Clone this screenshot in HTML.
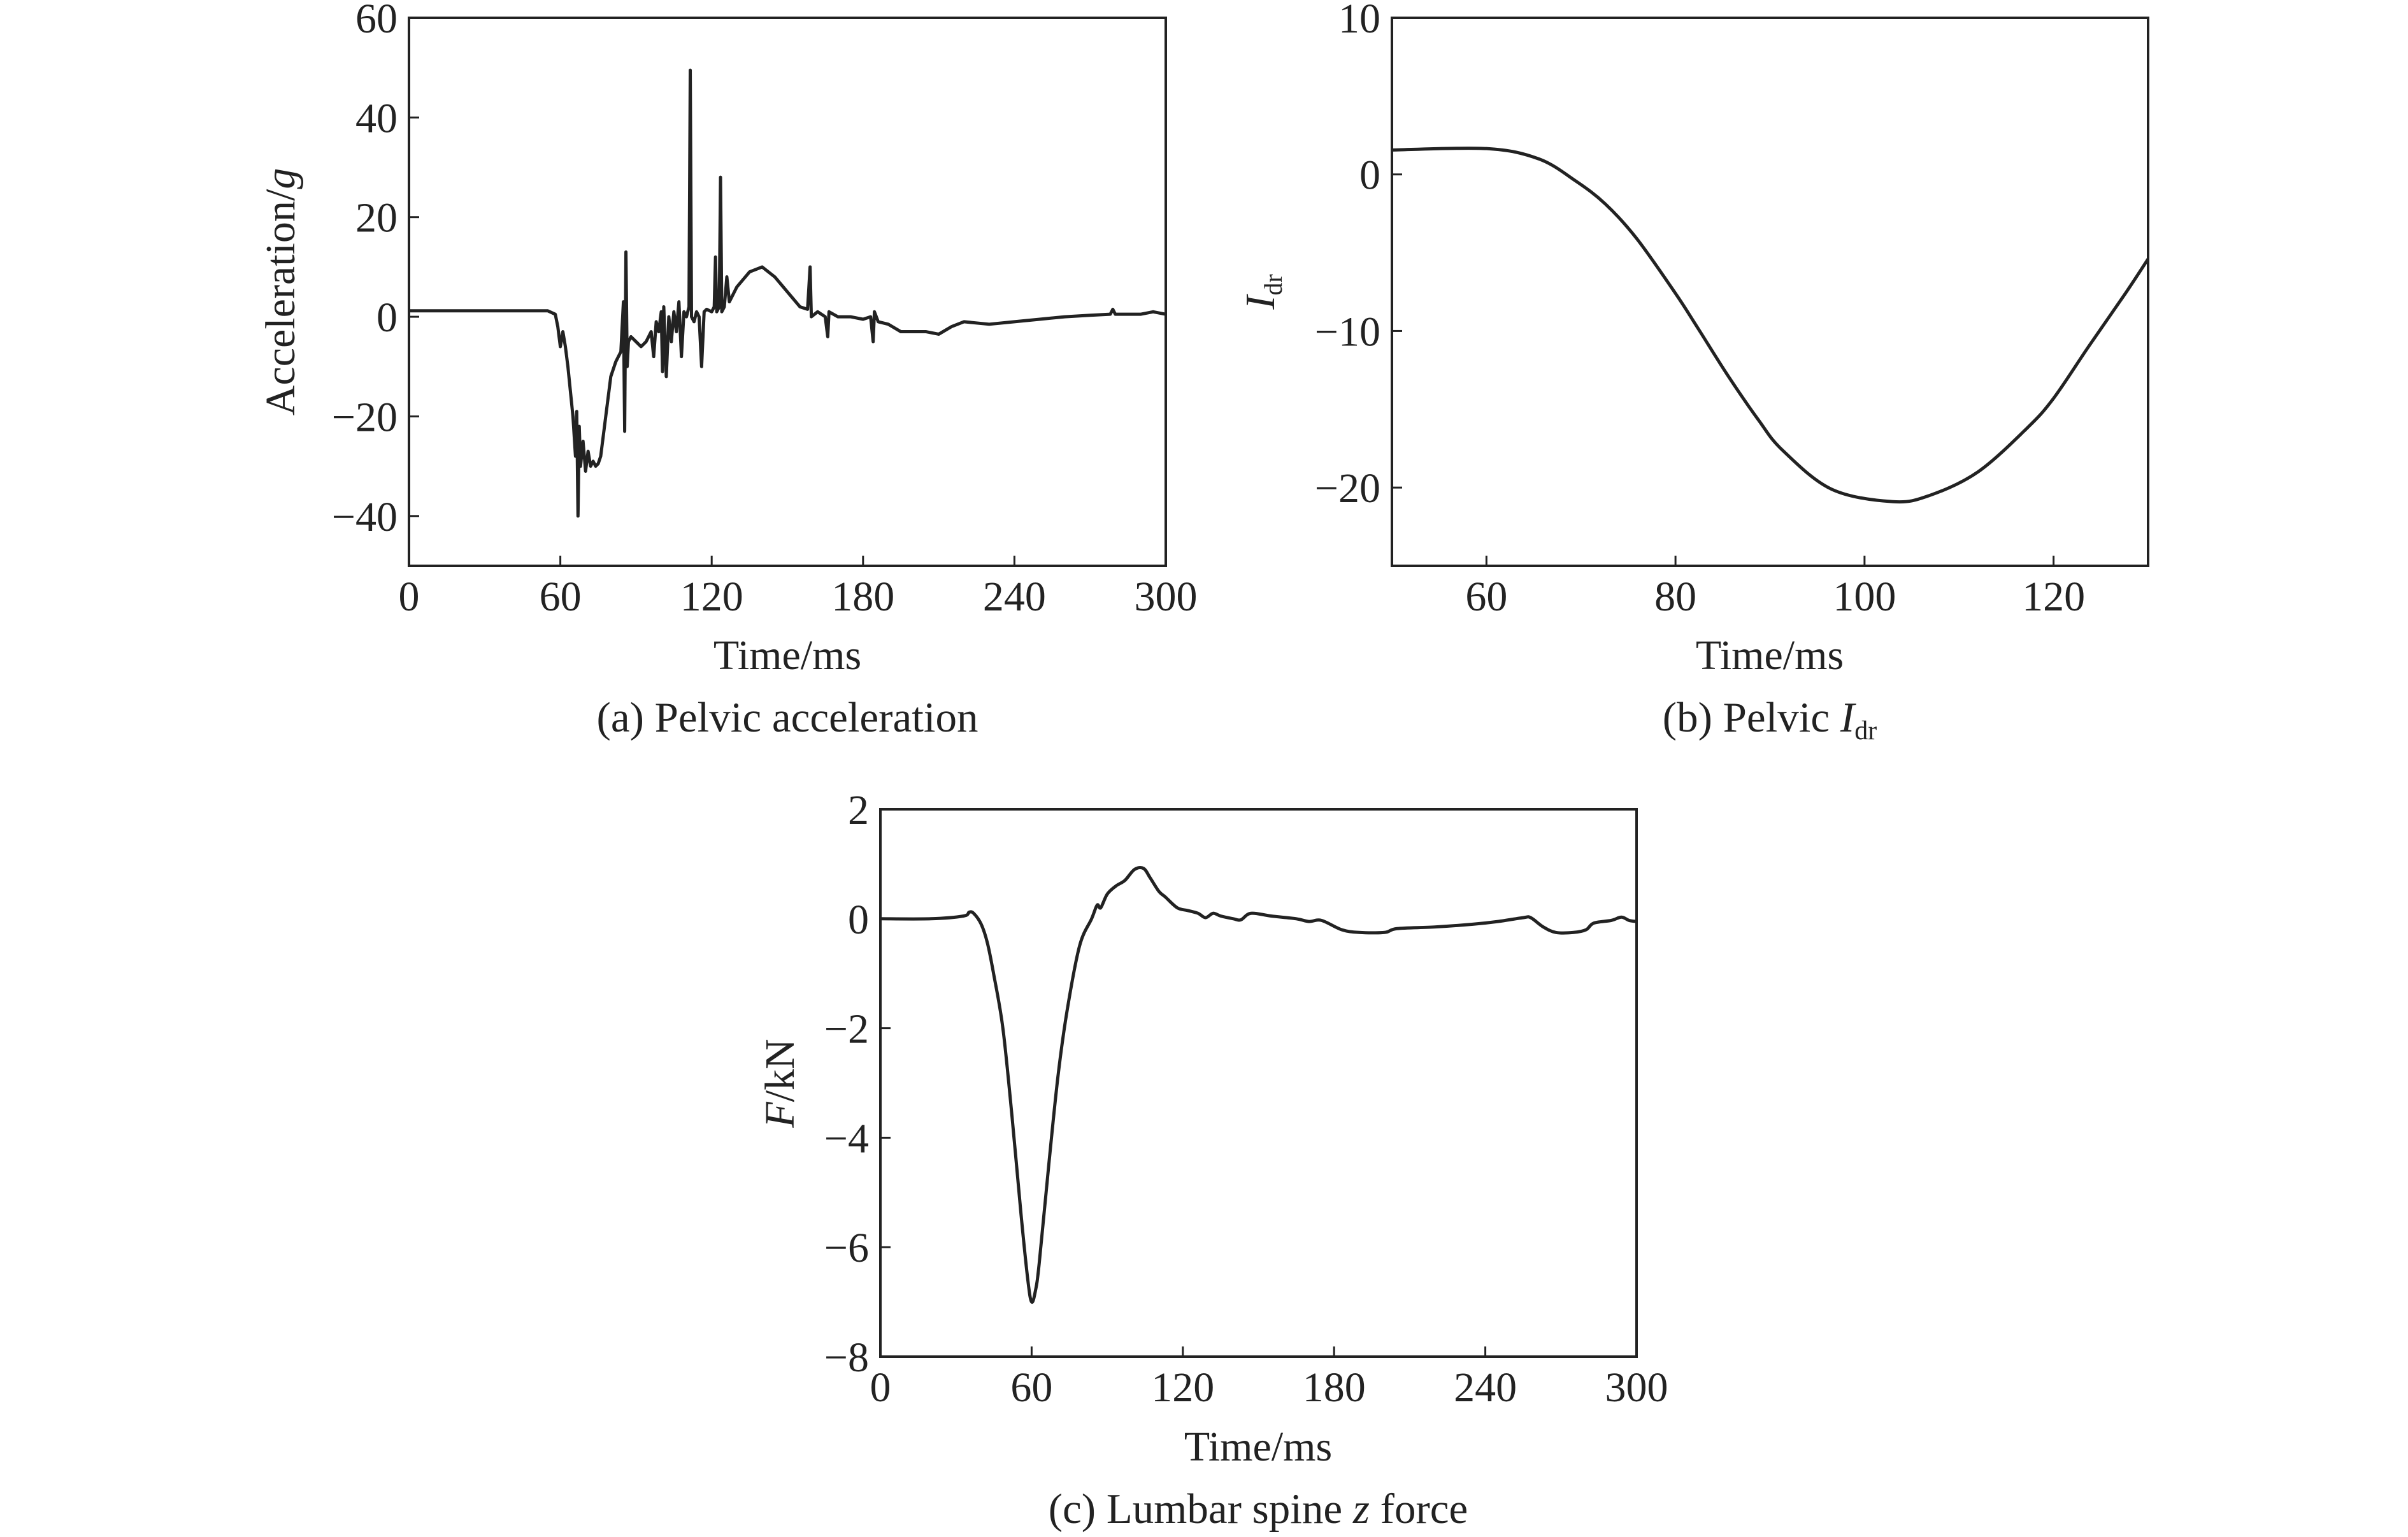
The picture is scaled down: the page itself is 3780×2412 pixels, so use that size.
<!DOCTYPE html>
<html><head><meta charset="utf-8">
<style>
html,body{margin:0;padding:0;background:#fff;}
svg{display:block;}
text{font-family:"Liberation Serif",serif;fill:#222;}
</style></head>
<body>
<svg id="fig" width="3780" height="2412" viewBox="0 0 3780 2412" xmlns="http://www.w3.org/2000/svg">
<rect width="3780" height="2412" fill="#fff"/>
</svg>
<script>
// Panel (a) pelvic acceleration
const accTime=[0,55,58,59,60,61,62,63,64,65,66,66.5,67,67.5,68,69,70,71,72,73,74,75,76,78,80,82,84,85,85.5,86,86.5,87,88,90,92,94,96,97,98,99,100,100.5,101,102,103,104,105,106,107,108,109,110,111,111.5,112,113,114,115,116,117,118,120,121,121.5,122,123,123.5,124,125,126,127,130,135,140,145,150,155,158,159,159.5,162,165,166,166.5,170,175,180,183,184,184.5,186,190,195,200,205,210,215,220,230,240,250,260,270,278,279,280,290,295,300];
const accValues=[1.2,1.2,0.5,-2,-6,-3,-6,-10,-15,-20,-28,-19,-40,-22,-30,-25,-31,-27,-30,-29,-30,-29.5,-28,-20,-12,-9,-7,3,-23,13,-10,-5,-4,-5,-6,-5,-3,-8,-1,-3,1,-11,2,-12,0,-5,1,-3,3,-8,1,0,2,49.5,0,-1,1,0,-10,1,1.5,1,2,12,1,2,28,1,2,8,3,6,9,10,8,5,2,1.5,10,0,1,0,-4,1,0,0,-0.5,0,-5,1,-1,-1.5,-3,-3,-3,-3.5,-2,-1,-1.5,-1,-0.5,0,0.3,0.5,1.5,0.5,0.5,1,0.5];
const accXTicks=[0,60,120,180,240,300];
const accYTicks=[60,40,20,0,-20,-40];
// Panel (b) pelvic Idr
const idrTime=[50,60,65.5,69.4,72.6,75.9,80,82.3,85.6,88.8,91.3,96.5,103,106.9,112,117.2,120,123.7,127.6,130];
const idrValues=[1.56,1.65,1.0,-0.4,-1.9,-4.1,-7.6,-9.75,-12.9,-15.7,-17.6,-20.1,-20.9,-20.5,-19.0,-16.2,-14.3,-11.0,-7.6,-5.4];
const idrXTicks=[60,80,100,120];
const idrYTicks=[10,0,-10,-20];
// Panel (c) lumbar spine z force
const forceTime=[0,20,33,35.2,37,40,42.5,44.9,48.6,52.2,55.8,58.5,60,61.5,63,66.8,70.4,74,79,83.8,86,87.4,90,93.5,97,100.8,104.4,107,110.5,113,117.8,122,126,129,132,135,140,143,147,155,165,170,175,183,190,200,205,220,235,245,255,258,263,268,275,280,283,290,294,297,300];
const forceValues=[0,0,0.05,0.12,0.1,-0.1,-0.45,-1,-2,-3.6,-5.4,-6.6,-7,-6.8,-6.3,-4.5,-2.9,-1.7,-0.5,0,0.25,0.2,0.45,0.6,0.7,0.9,0.92,0.75,0.5,0.4,0.2,0.15,0.1,0.02,0.1,0.05,0,-0.02,0.1,0.05,0,-0.05,-0.03,-0.2,-0.25,-0.25,-0.18,-0.15,-0.1,-0.05,0.02,0.02,-0.15,-0.25,-0.25,-0.2,-0.08,-0.03,0.03,-0.03,-0.05];
const forceXTicks=[0,60,120,180,240,300];
const forceYTicks=[2,0,-2,-4,-6,-8];

const NS='http://www.w3.org/2000/svg';
const svg=document.getElementById('fig');
function el(tag,attrs,parent){const e=document.createElementNS(NS,tag);for(const k in attrs)e.setAttribute(k,attrs[k]);(parent||svg).appendChild(e);return e;}

function panel(o){
  const g=el('g',{});
  
  
  const sx=v=>o.x0+(v-o.xmin)/(o.xmax-o.xmin)*(o.x1-o.x0);
  const sy=v=>o.y1-(v-o.ymin)/(o.ymax-o.ymin)*(o.y1-o.y0);
  o.xt.forEach(v=>{
    const X=sx(v);
    const t=el('line',{x1:X,x2:X,y1:o.y1,y2:o.y1-16,stroke:'#222','stroke-width':3},g);
    
    
    const l=el('text',{x:X,y:o.y1+70,'font-size':66,'text-anchor':'middle'},g);
    l.textContent=String(v);
    
    
  });
  o.yt.forEach(v=>{
    const Y=sy(v);
    const t=el('line',{x1:o.x0,x2:o.x0+16,y1:Y,y2:Y,stroke:'#222','stroke-width':3},g);
    
    
    const l=el('text',{x:o.x0-18,y:Y+23,'font-size':66,'text-anchor':'end'},g);
    l.textContent=(v<0?'\u2212'+(-v):String(v));
    
    
  });
  let d='';
  const n=o.tx.length;
  const P=o.tx.map((t,i)=>[sx(t),sy(o.ty[i])]);
  if(o.smooth){
    d='M'+P[0][0]+','+P[0][1];
    for(let i=0;i<n-1;i++){
      const p0=P[Math.max(0,i-1)],p1=P[i],p2=P[i+1],p3=P[Math.min(n-1,i+2)];
      const c1=[p1[0]+(p2[0]-p0[0])/6,p1[1]+(p2[1]-p0[1])/6];
      const c2=[p2[0]-(p3[0]-p1[0])/6,p2[1]-(p3[1]-p1[1])/6];
      d+=' C'+c1[0]+','+c1[1]+' '+c2[0]+','+c2[1]+' '+p2[0]+','+p2[1];
    }
  } else {
    d='M'+P.map(p=>p[0]+','+p[1]).join(' L');
  }
  const line=el('path',{d:d,fill:'none',stroke:'#222','stroke-width':5,'stroke-linejoin':'round'},g);
  
  
  const fr=el('rect',{x:o.x0,y:o.y0,width:o.x1-o.x0,height:o.y1-o.y0,fill:'none',stroke:'#222','stroke-width':4},g);
  
  
  return g;
}

panel({name:'panel-a-acceleration',x0:642,x1:1830,y0:28,y1:888,xmin:0,xmax:300,ymin:-50,ymax:60,xt:accXTicks,yt:accYTicks,tx:accTime,ty:accValues});
panel({name:'panel-b-idr',x0:2185,x1:3372,y0:28,y1:888,xmin:50,xmax:130,ymin:-25,ymax:10,xt:idrXTicks,yt:idrYTicks,tx:idrTime,ty:idrValues,smooth:true});
panel({name:'panel-c-force',x0:1382,x1:2569,y0:1270,y1:2129,xmin:0,xmax:300,ymin:-8,ymax:2,xt:forceXTicks,yt:forceYTicks,tx:forceTime,ty:forceValues,smooth:true});
</script>
<svg style="position:absolute;left:0;top:0" width="3780" height="2412" xmlns="http://www.w3.org/2000/svg">
<text x="1236" y="1050" font-size="66" text-anchor="middle">Time/ms</text>
<text x="1236" y="1148" font-size="67" text-anchor="middle">(a) Pelvic acceleration</text>
<text transform="translate(462,458) rotate(-90)" font-size="66" text-anchor="middle">Acceleration/<tspan font-style="italic">g</tspan></text>
<text x="2778" y="1050" font-size="66" text-anchor="middle">Time/ms</text>
<text x="2778" y="1148" font-size="67" text-anchor="middle">(b) Pelvic <tspan font-style="italic">I</tspan><tspan font-size="42" dy="12">dr</tspan></text>
<text transform="translate(2000,458) rotate(-90)" font-size="66" text-anchor="middle"><tspan font-style="italic">I</tspan><tspan font-size="40" dy="12">dr</tspan></text>
<text x="1975" y="2292" font-size="66" text-anchor="middle">Time/ms</text>
<text x="1975" y="2390" font-size="67" text-anchor="middle">(c) Lumbar spine <tspan font-style="italic">z</tspan> force</text>
<text transform="translate(1246,1700) rotate(-90)" font-size="66" text-anchor="middle"><tspan font-style="italic">F</tspan>/kN</text>
</svg>
</body></html>
